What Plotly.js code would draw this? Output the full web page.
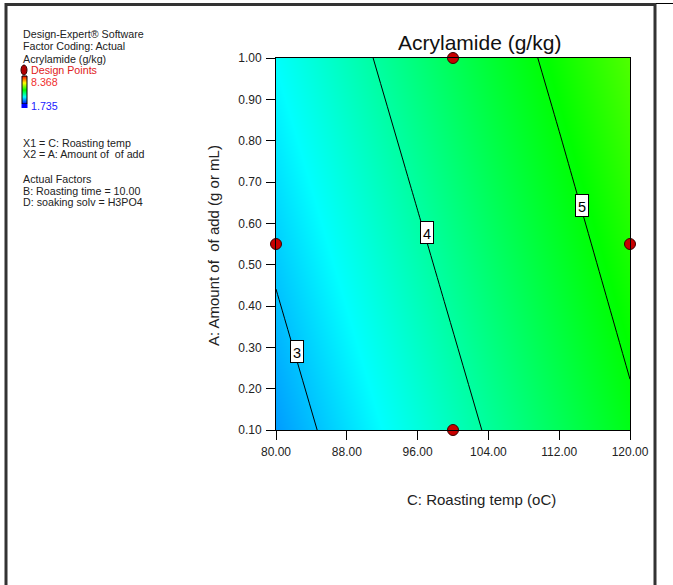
<!DOCTYPE html>
<html>
<head>
<meta charset="utf-8">
<script src="https://cdn.plot.ly/plotly-3.0.1.min.js"></script>
<style>
html,body{margin:0;padding:0;background:#fff;overflow:hidden;}
#chart{width:673px;height:585px;}
</style>
</head>
<body>
<div id="chart"></div>
<script>
// ---- data ----
const roastingTemp = [80, 88, 96, 104, 112, 120];          // C: Roasting temp (oC)
const amountAdd = [0.10, 0.40, 0.70, 1.00];                // A: Amount of add (g or mL)
const acrylamide = [                                        // rows follow amountAdd
  [2.75, 3.18, 3.61, 4.04, 4.47, 4.91],
  [2.97, 3.40, 3.83, 4.26, 4.69, 5.13],
  [3.19, 3.62, 4.05, 4.48, 4.91, 5.35],
  [3.41, 3.84, 4.27, 4.70, 5.13, 5.57]
];
const designX = [100, 100, 80, 120];
const designY = [0.10, 1.00, 0.55, 0.55];
const contourLevels = [3, 4, 5];
const contourLabelX = [82.4, 97.1, 114.6];
const contourLabelY = [0.29, 0.577, 0.644];
const xTicks = [80, 88, 96, 104, 112, 120];
const yTicks = [0.10, 0.20, 0.30, 0.40, 0.50, 0.60, 0.70, 0.80, 0.90, 1.00];
const zMin = 1.735, zMax = 8.368;
const infoLines = [
  ["Design-Expert® Software", 34],
  ["Factor Coding: Actual", 46],
  ["Acrylamide (g/kg)", 59],
  ["X1 = C: Roasting temp", 143],
  ["X2 = A: Amount of  of add", 154],
  ["Actual Factors", 179],
  ["B: Roasting time = 10.00", 191],
  ["D: soaking solv = H3PO4", 202]
];

// ---- layout helpers (pixel -> paper) ----
const W = 673, H = 585;
const L = 276, R = 630, T = 58, B = 430;
const fx = px => (px - L) / (R - L);
const fy = py => (B - py) / (B - T);

const cs = [[0,'rgb(0,0,255)'],[0.25,'rgb(0,255,255)'],[0.5,'rgb(0,255,0)'],[0.75,'rgb(255,255,0)'],[1,'rgb(255,0,0)']];
const FONT = 'Arial, "Liberation Sans", sans-serif';

// small legend colour bar as an image (red top -> blue bottom)
function barImage() {
  const c = document.createElement('canvas');
  c.width = 5; c.height = 28;
  const g = c.getContext('2d');
  const grad = g.createLinearGradient(0, 0, 0, 28);
  cs.slice().reverse().forEach(s => grad.addColorStop(1 - s[0], s[1]));
  g.fillStyle = grad; g.fillRect(0, 0, 5, 28);
  return c.toDataURL();
}

const traces = [
  {
    type: 'heatmap', x: roastingTemp, y: amountAdd, z: acrylamide,
    zsmooth: 'best', colorscale: cs, zmin: zMin, zmax: zMax,
    hoverinfo: 'skip', showscale: false, showlegend: false
  },
  {
    type: 'contour', x: roastingTemp, y: amountAdd, z: acrylamide,
    autocontour: false,
    contours: { start: contourLevels[0], end: contourLevels[contourLevels.length - 1], size: 1, coloring: 'none', showlabels: false },
    line: { color: '#000', width: 1, smoothing: 0.6 },
    showscale: false, hoverinfo: 'skip', showlegend: false
  },
  {
    type: 'scatter', mode: 'markers', x: designX, y: designY,
    marker: { size: 11, color: 'rgb(200,0,0)', line: { color: '#3a0000', width: 1 } },
    cliponaxis: false, hoverinfo: 'skip', showlegend: false
  }
];

const annotations = [];
infoLines.forEach(([t, py]) => annotations.push({
  text: t, xref: 'paper', yref: 'paper', x: fx(20.5), y: fy(py),
  xanchor: 'left', yanchor: 'middle', showarrow: false,
  font: { family: FONT, size: 10.7, color: '#222' }
}));
annotations.push({ text: 'Design Points', xref: 'paper', yref: 'paper', x: fx(28.5), y: fy(70),
  xanchor: 'left', yanchor: 'middle', showarrow: false, font: { family: FONT, size: 10.7, color: '#e02020' } });
annotations.push({ text: zMax.toFixed(3), xref: 'paper', yref: 'paper', x: fx(28.5), y: fy(82),
  xanchor: 'left', yanchor: 'middle', showarrow: false, font: { family: FONT, size: 10.7, color: '#f03030' } });
annotations.push({ text: zMin.toFixed(3), xref: 'paper', yref: 'paper', x: fx(28.5), y: fy(106),
  xanchor: 'left', yanchor: 'middle', showarrow: false, font: { family: FONT, size: 10.7, color: '#2020ff' } });
contourLevels.forEach((lv, i) => annotations.push({
  text: String(lv), x: contourLabelX[i], y: contourLabelY[i], xref: 'x', yref: 'y',
  showarrow: false, bgcolor: '#fff', bordercolor: '#000', borderwidth: 1, borderpad: 1,
  width: 10, height: 19, valign: 'bottom', font: { family: FONT, size: 14.5, color: '#000' }
}));
annotations.push({ text: 'Acrylamide (g/kg)', xref: 'paper', yref: 'paper', x: fx(479), y: fy(42),
  xanchor: 'center', yanchor: 'middle', showarrow: false, font: { family: FONT, size: 21, color: '#111' } });
annotations.push({ text: 'C: Roasting temp (oC)', xref: 'paper', yref: 'paper', x: fx(481), y: fy(499),
  xanchor: 'center', yanchor: 'middle', showarrow: false, font: { family: FONT, size: 15, color: '#222' } });
annotations.push({ text: 'A: Amount of  of add (g or mL)', xref: 'paper', yref: 'paper', x: fx(213), y: fy(246),
  xanchor: 'center', yanchor: 'middle', textangle: -90, showarrow: false, font: { family: FONT, size: 15, color: '#222' } });

const shapes = [
  // white cover for the empty left margin below the notes
  { type: 'rect', xref: 'paper', yref: 'paper', x0: fx(7.5), x1: fx(200), y0: fy(260), y1: fy(600),
    fillcolor: '#fff', line: { width: 0 }, layer: 'above' },
  // legend design point marker
  { type: 'circle', xref: 'paper', yref: 'paper', x0: fx(21), x1: fx(27), y0: fy(65), y1: fy(75),
    fillcolor: '#b00000', line: { color: '#300', width: 1 } },
  { type: 'rect', xref: 'paper', yref: 'paper', x0: fx(22), x1: fx(27), y0: fy(76), y1: fy(104),
    fillcolor: 'rgba(0,0,0,0)', line: { color: '#000', width: 1 } },
  { type: 'rect', xref: 'paper', yref: 'paper', x0: fx(21.5), x1: fx(27.5), y0: fy(104), y1: fy(108),
    fillcolor: '#0000ff', line: { width: 0 } },
  // outer frame
  { type: 'line', xref: 'paper', yref: 'paper', x0: fx(6), x1: fx(6), y0: fy(3), y1: fy(590), line: { color: '#333', width: 3 } },
  { type: 'line', xref: 'paper', yref: 'paper', x0: fx(5), x1: fx(656), y0: fy(4.5), y1: fy(4.5), line: { color: '#333', width: 3 } },
  { type: 'line', xref: 'paper', yref: 'paper', x0: fx(655), x1: fx(655), y0: fy(3), y1: fy(590), line: { color: '#333', width: 3 } },
  { type: 'line', xref: 'paper', yref: 'paper', x0: fx(656), x1: fx(673), y0: fy(3.5), y1: fy(3.5), line: { color: '#000', width: 1 } }
];

const images = [{
  source: barImage(), xref: 'paper', yref: 'paper',
  x: fx(22), y: fy(76), sizex: fx(27) - fx(22), sizey: fy(76) - fy(104),
  xanchor: 'left', yanchor: 'top', sizing: 'stretch', layer: 'below'
}];

const axisCommon = {
  showgrid: false, zeroline: false, mirror: true, showline: true,
  linecolor: '#000', linewidth: 1, ticks: 'outside', ticklen: 9, tickcolor: '#000', tickwidth: 1,
  tickformat: '.2f', tickfont: { family: FONT, size: 12, color: '#222' }, fixedrange: true
};

const layout = {
  width: W, height: H,
  margin: { l: L, r: W - R, t: T, b: H - B, pad: 0 },
  paper_bgcolor: '#fff', plot_bgcolor: '#fff',
  showlegend: false,
  xaxis: Object.assign({}, axisCommon, { range: [80, 120], tickvals: xTicks, ticklabelstandoff: 2 }),
  yaxis: Object.assign({}, axisCommon, { range: [0.10, 1.00], tickvals: yTicks, ticklabelstandoff: 2 }),
  annotations: annotations,
  shapes: shapes,
  images: images
};

Plotly.newPlot('chart', traces, layout, { staticPlot: true, displayModeBar: false });
</script>
</body>
</html>
